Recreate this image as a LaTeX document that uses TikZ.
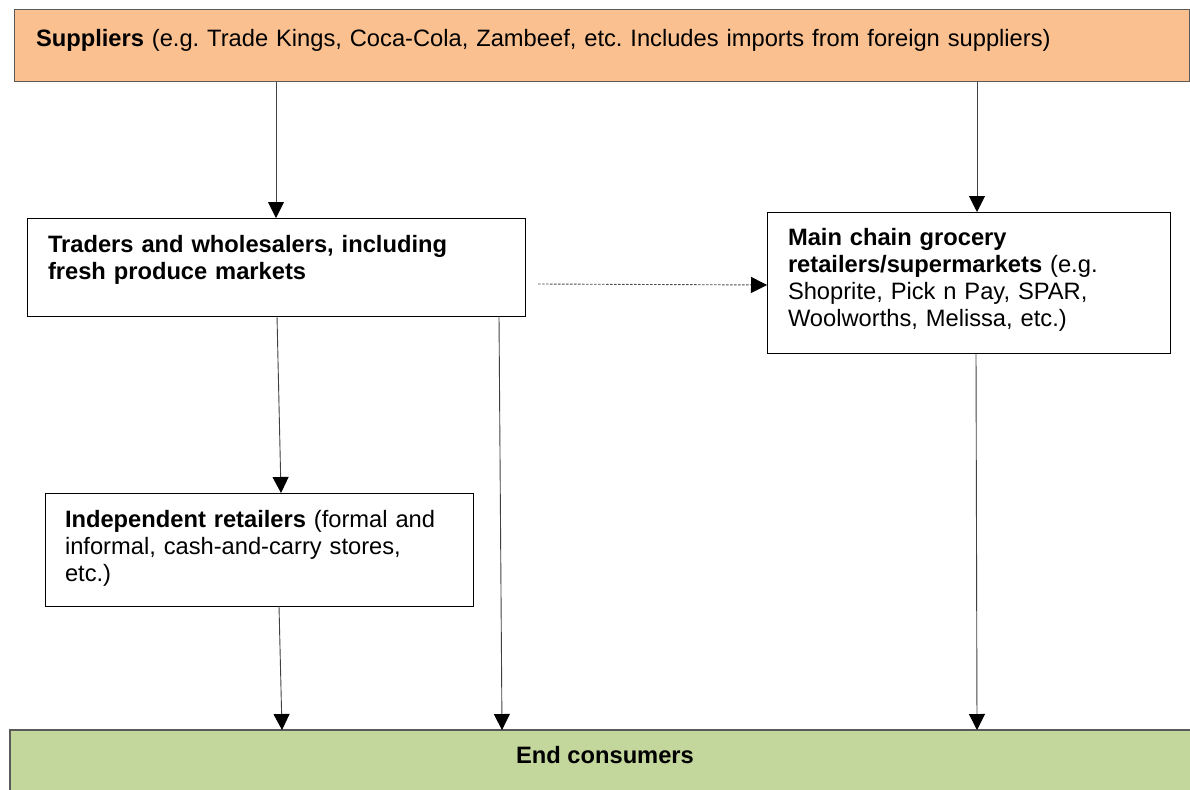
\documentclass[tikz,border=0pt]{standalone}
\usepackage{fontspec}
\setmainfont{Liberation Sans}
\usetikzlibrary{arrows.meta,calc}
\definecolor{suporange}{RGB}{250,192,144}
\definecolor{endgreen}{RGB}{195,214,155}
\definecolor{edgegray}{RGB}{90,90,90}
\frenchspacing
\tikzset{
  whitebox/.style={draw=black, line width=1pt, fill=white, inner sep=0pt, outer sep=0pt, anchor=north west},
  txt/.style={inner sep=0pt, outer sep=0pt, anchor=base west, align=left, font=\fontsize{23.7}{27.3}\selectfont},
  flow/.style={draw=black!75, line width=0.9pt, -{Triangle[width=16pt,length=16pt,color=black]}},
  dotflow/.style={draw=black!70, line width=0.9pt, dash pattern=on 2.5pt off 1.5pt, -{Triangle[width=16pt,length=16pt,color=black]}}
}
\begin{document}
\begin{tikzpicture}[x=1pt,y=-1pt]
\useasboundingbox (0,0) rectangle (1190,789);
\clip (0,0) rectangle (1190,789);
% boxes
\node[whitebox, draw=edgegray, fill=suporange, minimum width=1175.5pt, minimum height=72pt] (sup) at (14,10) {};
\node[whitebox, minimum width=498pt, minimum height=98pt] (trad) at (27,218) {};
\node[whitebox, minimum width=403pt, minimum height=141pt] (main) at (767,212) {};
\node[whitebox, minimum width=428pt, minimum height=113pt] (ind) at (45,493) {};
\node[whitebox, draw=edgegray, line width=2pt, fill=endgreen, minimum width=1200pt, minimum height=80pt] (end) at (10,730) {};
% texts
\node[txt, text width=1150pt] (suptxt) at (36,46.5) {\textbf{Suppliers} (e.g. Trade Kings, Coca-Cola, Zambeef, etc. Includes imports from foreign suppliers)};
\node[txt, text width=470pt] (tradtxt) at (48,252) {\textbf{Traders and wholesalers, including}\\\textbf{fresh produce markets}};
\node[txt, text width=380pt] (maintxt) at (788,245) {\textbf{Main chain grocery}\\\textbf{retailers/supermarkets} (e.g.\\Shoprite, Pick n Pay, SPAR,\\Woolworths, Melissa, etc.)};
\node[txt, text width=410pt] (indtxt) at (65,527) {\textbf{Independent retailers} (formal and\\informal, cash-and-carry stores,\\etc.)};
\node[txt, anchor=base, align=center] (endtxt) at (605,763) {\textbf{End consumers}};
% connectors
\draw[flow] (sup.south -| trad.north) -- (trad.north);
\draw[flow] ([xshift=8.5pt]main.north |- sup.south) -- ([xshift=8.5pt]main.north);
\draw[dotflow] ([xshift=13pt,yshift=-17pt]trad.east) -- ([yshift=-2.5pt]main.west);
\draw[flow] ([xshift=1pt]trad.south) -- ([xshift=22pt]ind.north);
\draw[flow] ([xshift=20pt]ind.south) -- ([xshift=23pt]ind.south |- end.north);
\draw[flow] ([xshift=223pt]trad.south) -- ([xshift=226pt]trad.south |- end.north);
\draw[flow] ([xshift=7.5pt]main.south) -- ([xshift=8.5pt]main.south |- end.north);
\end{tikzpicture}
\end{document}
